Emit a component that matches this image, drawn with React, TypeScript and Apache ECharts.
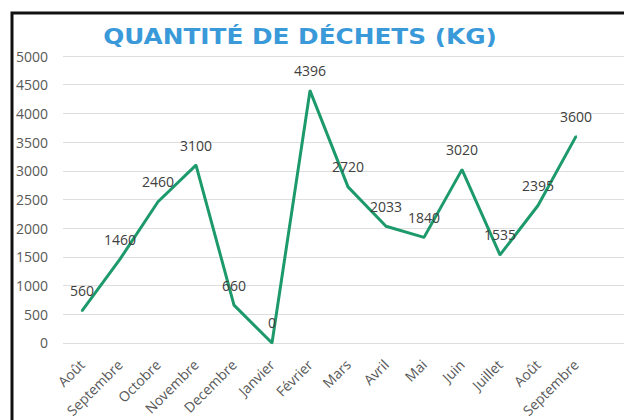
import React, { useEffect, useRef } from "react";
import * as echarts from "echarts";

const categories = [
  "Août", "Septembre", "Octobre", "Novembre", "Decembre", "Janvier", "Février",
  "Mars", "Avril", "Mai", "Juin", "Juillet", "Août", "Septembre",
];
const wasteKg = [560, 1460, 2460, 3100, 660, 0, 4396, 2720, 2033, 1840, 3020, 1535, 2395, 3600];
const titleText = "QUANTITÉ DE DÉCHETS (KG)";

export default function App() {
  const ref = useRef<HTMLDivElement>(null);
  useEffect(() => {
    if (!ref.current) return;
    const chart = echarts.init(ref.current, undefined, { renderer: "svg" });
    const font = "'Open Sans', 'Liberation Sans', sans-serif";
    chart.setOption({
      animation: false,
      backgroundColor: "#ffffff",
      grid: [
        { left: 63, right: 29, top: 56, bottom: 77, containLabel: false },
        { left: 63, right: -20, top: 56, bottom: 77, containLabel: false },
      ],
      xAxis: [
        {
          type: "category",
          gridIndex: 0,
          data: categories,
          boundaryGap: true,
          axisLine: { show: false },
          axisTick: { show: false },
          axisLabel: {
            rotate: 45,
            interval: 0,
            margin: 19,
            color: "#595959",
            fontSize: 14,
            fontFamily: font,
          },
        },
        { type: "value", gridIndex: 1, show: false },
      ],
      yAxis: [
        {
          type: "value",
          gridIndex: 0,
          min: 0,
          max: 5000,
          interval: 500,
          axisLine: { show: false },
          axisTick: { show: false },
          splitLine: { show: false },
          axisLabel: {
            color: "#595959",
            fontSize: 14,
            fontFamily: font,
            margin: 15,
            formatter: (v: number) => String(v),
          },
        },
        {
          type: "value",
          gridIndex: 1,
          min: 0,
          max: 5000,
          interval: 500,
          axisLine: { show: false },
          axisTick: { show: false },
          axisLabel: { show: false },
          splitLine: { show: true, lineStyle: { color: "#dedede", width: 1 } },
        },
      ],
      series: [
        {
          type: "line",
          xAxisIndex: 0,
          yAxisIndex: 0,
          data: wasteKg,
          showSymbol: true,
          symbol: "circle",
          symbolSize: 2,
          lineStyle: { color: "#1d9a6c", width: 3 },
          itemStyle: { color: "#1d9a6c" },
          label: {
            show: true,
            position: "top",
            distance: 12,
            color: "#404040",
            fontSize: 14,
            fontFamily: font,
          },
          z: 3,
        },
      ],
      graphic: [
        {
          type: "text",
          x: 300,
          y: 37,
          scaleX: 1.18,
          style: {
            text: titleText,
            fill: "#3a9ad9",
            font: "bold 21px 'DejaVu Sans', sans-serif",
            textAlign: "center",
            textVerticalAlign: "middle",
          },
          z: 10,
        },
        {
          type: "rect",
          shape: { x: 12, y: 13, width: 700, height: 500 },
          style: { fill: "none", stroke: "#111111", lineWidth: 3 },
          z: 10,
        },
      ],
    });
    return () => chart.dispose();
  }, []);
  return <div ref={ref} style={{ width: 624, height: 420, position: "absolute", left: 0, top: 0 }} />;
}
